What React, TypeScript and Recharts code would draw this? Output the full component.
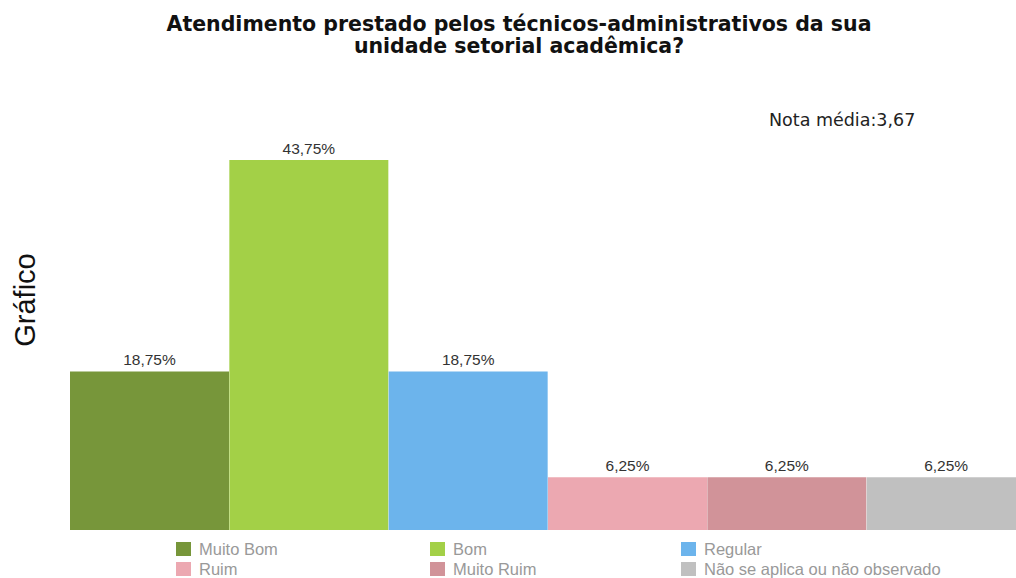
import React from 'react';
import { BarChart, Bar, XAxis, YAxis, Cell, LabelList } from 'recharts';

const categories = ['Muito Bom', 'Bom', 'Regular', 'Ruim', 'Muito Ruim', 'Não se aplica ou não observado'];
const percentages = [18.75, 43.75, 18.75, 6.25, 6.25, 6.25];
const colors = ['#77963a', '#a3d047', '#6cb4ec', '#eca8b1', '#d19399', '#c0c0c0'];

const chartData = categories.map((name, i) => ({ name, value: percentages[i] }));

const fmt = (v: any) => `${Number(v).toFixed(2).replace('.', ',')}%`;

const legendCols = [176, 430, 681];
const legendRows = [549, 569];

const titleStyle: React.CSSProperties = {
  position: 'absolute',
  left: 0,
  width: 1038,
  textAlign: 'center',
  fontFamily: '"DejaVu Sans", sans-serif',
  fontWeight: 'bold',
  fontSize: 20.5,
  lineHeight: '20px',
  color: '#111',
  whiteSpace: 'nowrap',
};

export default function App() {
  return (
    <div style={{ position: 'absolute', left: 0, top: 0, width: 1016, height: 578, overflow: 'hidden', background: '#fff' }}>
      <div style={{ ...titleStyle, top: 14 }}>Atendimento prestado pelos técnicos-administrativos da sua</div>
      <div style={{ ...titleStyle, top: 36 }}>unidade setorial acadêmica?</div>
      <div
        style={{
          position: 'absolute',
          left: 769,
          top: 110,
          fontFamily: '"DejaVu Sans", sans-serif',
          fontSize: 17.5,
          color: '#222',
          whiteSpace: 'nowrap',
        }}
      >
        Nota média:3,67
      </div>
      <div
        style={{
          position: 'absolute',
          left: 25,
          top: 300,
          transform: 'translate(-50%, -50%) rotate(-90deg)',
          fontFamily: '"Liberation Sans", Arial, sans-serif',
          fontSize: 29,
          color: '#111',
          whiteSpace: 'nowrap',
        }}
      >
        Gráfico
      </div>
      <BarChart
        width={1026}
        height={578}
        data={chartData}
        margin={{ top: 107, right: 0, bottom: 48, left: 70 }}
        barCategoryGap={0}
        style={{ position: 'absolute', left: 0, top: 0 }}
      >
        <XAxis dataKey="name" hide />
        <YAxis hide domain={[0, 50]} />
        <Bar dataKey="value" isAnimationActive={false}>
          {chartData.map((d, i) => (
            <Cell key={d.name} fill={colors[i]} />
          ))}
          <LabelList
            dataKey="value"
            position="top"
            formatter={fmt}
            fill="#333"
            fontSize={15.5}
            fontFamily='"Liberation Sans", Arial, sans-serif'
            offset={6}
          />
        </Bar>
      </BarChart>
      {categories.map((name, i) => {
        const x = legendCols[i % 3];
        const y = legendRows[Math.floor(i / 3)];
        return (
          <div
            key={name}
            style={{
              position: 'absolute',
              left: x,
              top: y - 9,
              height: 18,
              display: 'flex',
              alignItems: 'center',
              whiteSpace: 'nowrap',
              fontFamily: '"Liberation Sans", Arial, sans-serif',
              fontSize: 16.5,
              color: '#999',
            }}
          >
            <span style={{ width: 15, height: 14, background: colors[i], display: 'inline-block', marginRight: 8 }} />
            {name}
          </div>
        );
      })}
    </div>
  );
}
